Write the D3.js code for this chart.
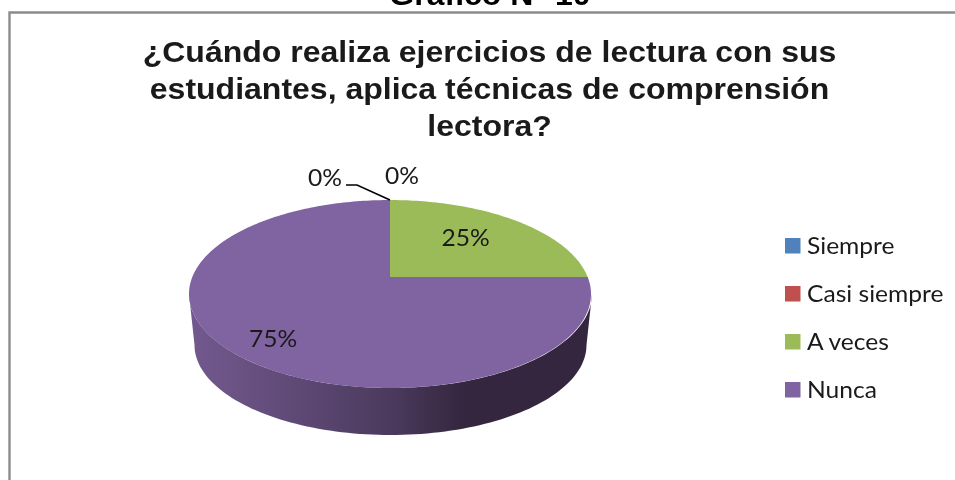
<!DOCTYPE html>
<html>
<head>
<meta charset="utf-8">
<script src="https://cdn.jsdelivr.net/npm/d3@7"></script>
<style>
  html, body { margin: 0; padding: 0; background: #fff; }
  /* the reference is a soft, upscaled screenshot */
  svg { display: block; filter: blur(0.4px); }
</style>
</head>
<body>
<svg id="chart"></svg>
<script>
// data
const categories = ['Siempre', 'Casi siempre', 'A veces', 'Nunca'];
const values = [0, 0, 25, 75];
const colors = ['#4F81BD', '#C0504D', '#9BBB59', '#8064A2'];
const percentLabels = ['0%', '0%', '25%', '75%'];
const titleLines = [
  '¿Cuándo realiza ejercicios de lectura con sus',
  'estudiantes, aplica técnicas de comprensión',
  'lectora?'
];
const heading = 'Gráfico N° 10';

const width = 955;
const height = 480;

// the screenshot was stretched sideways, text follows that
const stretch = 1.07;
const titleStretch = 1.104;

const svg = d3.select('#chart')
  .attr('width', width)
  .attr('height', height);

// frame, open at the bottom and right of the crop
svg.append('path')
  .attr('d', `M9.5,${height}V12.5H${width}`)
  .attr('fill', 'none')
  .attr('stroke', '#8c8c8c')
  .attr('stroke-width', 2.4);

// heading cut off by the top of the picture
svg.append('text')
  .attr('transform', `translate(490,4.5) scale(${titleStretch},1)`)
  .attr('text-anchor', 'middle')
  .attr('font-family', 'Liberation Sans')
  .attr('font-weight', 'bold')
  .attr('font-size', 29)
  .attr('fill', '#000')
  .text(heading);

// chart title
svg.append('g').selectAll('text')
  .data(titleLines)
  .enter()
  .append('text')
  .attr('transform', (d, i) => `translate(489.5,${62 + i * 36.8}) scale(${titleStretch},1)`)
  .attr('text-anchor', 'middle')
  .attr('font-family', 'Liberation Sans')
  .attr('font-weight', 'bold')
  .attr('font-size', 29)
  .attr('fill', '#1a1a1a')
  .text(d => d);

// 3D pie: circle seen in perspective, so the centre sits above the middle of the ellipse
const pieCentre = { x: 390, y: 277 };
const spreadX = 197.7;
const spreadY = 90.9;
const tilt = 0.181;

function project(angle, r) {
  const X = r * Math.sin(angle);
  const Y = r * Math.cos(angle);
  const w = 1 + tilt * Y;
  return [pieCentre.x + spreadX * X / w, pieCentre.y - spreadY * Y / w];
}

const pie = d3.pie().sort(null).value(d => d);
const slices = pie(values);
const line = d3.line();

function slicePath(d) {
  const steps = Math.max(2, Math.ceil((d.endAngle - d.startAngle) / 0.02));
  const rim = d3.range(steps + 1)
    .map(i => project(d.startAngle + (d.endAngle - d.startAngle) * i / steps, 1));
  return line([[pieCentre.x, pieCentre.y], ...rim]) + 'Z';
}

// side wall, bottom outline a little narrower than the top one
const wallTop = { cx: 390.5, cy: 294, rx: 201.5, ry: 94 };
const wallBottom = { cx: 390.5, cy: 345, rx: 196, ry: 90 };

const defs = svg.append('defs');
const wallGradient = defs.append('linearGradient')
  .attr('id', 'wall')
  .attr('gradientUnits', 'userSpaceOnUse')
  .attr('x1', wallTop.cx - wallTop.rx)
  .attr('x2', wallTop.cx + wallTop.rx)
  .attr('y1', 0)
  .attr('y2', 0);
wallGradient.selectAll('stop')
  .data([
    [0, '#72588e'],
    [0.1, '#6c5486'],
    [0.5, '#4b3a5d'],
    [0.68, '#35263f'],
    [1, '#35263f']
  ])
  .enter()
  .append('stop')
  .attr('offset', d => d[0])
  .attr('stop-color', d => d[1]);

const t = d3.range(0, 1.001, 0.01).map(f => Math.PI * f);
const bottomEdge = t.map(a => [
  wallBottom.cx - wallBottom.rx * Math.cos(a),
  wallBottom.cy + wallBottom.ry * Math.sin(a)
]);
const topEdge = t.map(a => [
  wallTop.cx + wallTop.rx * Math.cos(a),
  wallTop.cy + wallTop.ry * Math.sin(a)
]);
svg.append('path')
  .attr('d', line([...bottomEdge, ...topEdge]) + 'Z')
  .attr('fill', 'url(#wall)');

svg.append('g').selectAll('path')
  .data(slices.filter(d => d.value > 0))
  .enter()
  .append('path')
  .attr('d', slicePath)
  .attr('fill', d => colors[d.index]);

// leader line for the first 0%
const rimTop = project(0, 1);
svg.append('path')
  .attr('d', line([[346, 185], [357, 185], rimTop]))
  .attr('fill', 'none')
  .attr('stroke', '#000')
  .attr('stroke-width', 1.6);

// data labels
const labelPos = [[325, 186], [402, 184], [465.5, 246], [273, 347]];
svg.append('g').selectAll('text')
  .data(percentLabels)
  .enter()
  .append('text')
  .attr('transform', (d, i) => `translate(${labelPos[i][0]},${labelPos[i][1]}) scale(${stretch},1)`)
  .attr('text-anchor', 'middle')
  .attr('font-family', 'Lato')
  .attr('font-size', 23)
  .attr('fill', '#1a1a1a')
  .text(d => d);

// legend
const legendY = d3.scalePoint()
  .domain(categories)
  .range([246, 390]);

const legend = svg.append('g').selectAll('g')
  .data(categories)
  .enter()
  .append('g')
  .attr('transform', d => `translate(785,${legendY(d)})`);

legend.append('rect')
  .attr('x', 0)
  .attr('y', -8)
  .attr('width', 15.5)
  .attr('height', 15.5)
  .attr('fill', (d, i) => colors[i]);

legend.append('text')
  .attr('transform', `translate(22,8) scale(${stretch},1)`)
  .attr('font-family', 'Lato')
  .attr('font-size', 23)
  .attr('fill', '#1a1a1a')
  .text(d => d);
</script>
</body>
</html>
